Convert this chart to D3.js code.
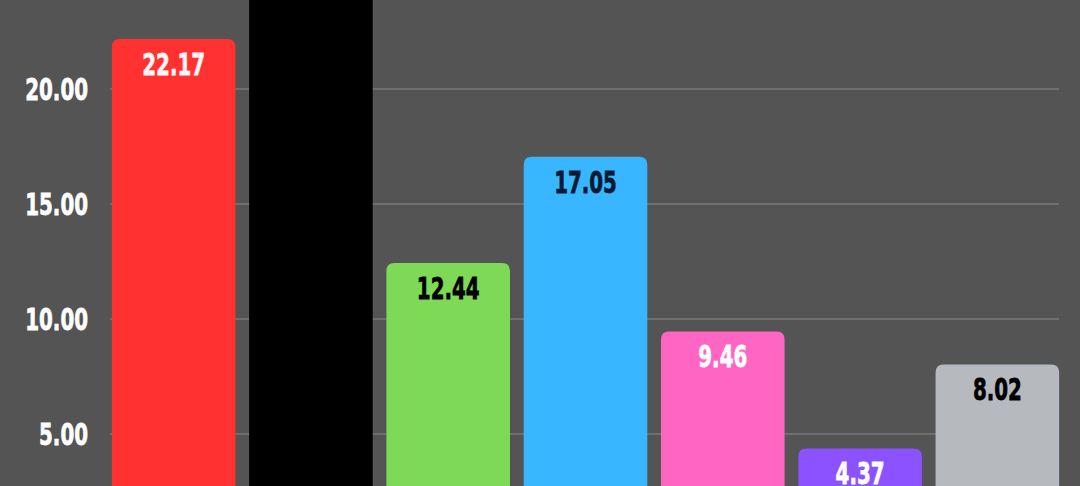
<!DOCTYPE html>
<html>
<head>
<meta charset="utf-8">
<script src="https://cdn.jsdelivr.net/npm/d3@7"></script>
<style>
  html, body { margin: 0; padding: 0; background: #545454; overflow: hidden; }
  svg { display: block; }
  .tick-label, .bar-label {
    font-family: "DejaVu Sans", sans-serif;
    font-weight: bold;
  }
</style>
</head>
<body>
<script>
// chart data
const categories = ["A", "B", "C", "D", "E", "F", "G"];
const values = [22.17, 30.0, 12.44, 17.05, 9.46, 4.37, 8.02];
const barColors = ["#ff3131", "#000000", "#7ed957", "#38b6ff", "#ff66c4", "#8c52ff", "#b6b9be"];
const labelColors = ["#fff5f5", "#ffffff", "#000000", "#0b1a33", "#ffffff", "#ffffff", "#000000"];
const yTicks = [5, 10, 15, 20];

const width = 1080, height = 486;
const squeeze = "scale(0.64,1)"; // narrow, tall look of the labels

const svg = d3.select("body")
  .append("svg")
  .attr("width", width)
  .attr("height", height);

svg.append("rect")
  .attr("width", width)
  .attr("height", height)
  .attr("fill", "#545454");

// y: 0 sits below the visible area (the picture is cropped)
const yScale = d3.scaleLinear()
  .domain([0, 20])
  .range([549, 89]);

const xScale = d3.scaleBand()
  .domain(categories)
  .range([105, 1066])
  .paddingInner(0.1)
  .paddingOuter(0.05);

// grid lines
svg.append("g")
  .selectAll("line")
  .data(yTicks)
  .enter()
  .append("line")
  .attr("x1", xScale.range()[0] + 5)
  .attr("x2", 1059)
  .attr("y1", d => yScale(d))
  .attr("y2", d => yScale(d))
  .attr("stroke", "#8a8a8a")
  .attr("stroke-width", 1);

// y tick labels
svg.append("g")
  .selectAll("text")
  .data(yTicks)
  .enter()
  .append("text")
  .attr("class", "tick-label")
  .attr("transform", d => "translate(88," + yScale(d) + ") " + squeeze)
  .attr("dy", "0.36em")
  .attr("text-anchor", "end")
  .attr("font-size", 31)
  .attr("fill", "#ffffff")
  .attr("stroke", "#ffffff")
  .attr("stroke-width", 0.8)
  .text(d => d3.format(".2f")(d));

// bars with rounded top corners
const r = 8;
const barPath = (i) => {
  const x0 = xScale(categories[i]);
  const w = xScale.bandwidth();
  const y0 = yScale(values[i]);
  const yb = yScale(0);
  return "M" + x0 + "," + yb +
    "V" + (y0 + r) +
    "Q" + x0 + "," + y0 + " " + (x0 + r) + "," + y0 +
    "H" + (x0 + w - r) +
    "Q" + (x0 + w) + "," + y0 + " " + (x0 + w) + "," + (y0 + r) +
    "V" + yb + "Z";
};

svg.append("g")
  .selectAll("path")
  .data(categories)
  .enter()
  .append("path")
  .attr("d", (d, i) => barPath(i))
  .attr("fill", (d, i) => barColors[i]);

// value labels
svg.append("g")
  .selectAll("text")
  .data(categories)
  .enter()
  .append("text")
  .attr("class", "bar-label")
  .attr("transform", (d, i) => "translate(" + (xScale(d) + xScale.bandwidth() / 2) + "," +
    (yScale(values[i]) + 24.5) + ") " + squeeze)
  .attr("dy", "0.36em")
  .attr("text-anchor", "middle")
  .attr("font-size", 31)
  .attr("fill", (d, i) => labelColors[i])
  .attr("stroke", (d, i) => labelColors[i])
  .attr("stroke-width", 0.8)
  .text((d, i) => d3.format(".2f")(values[i]));
</script>
</body>
</html>
